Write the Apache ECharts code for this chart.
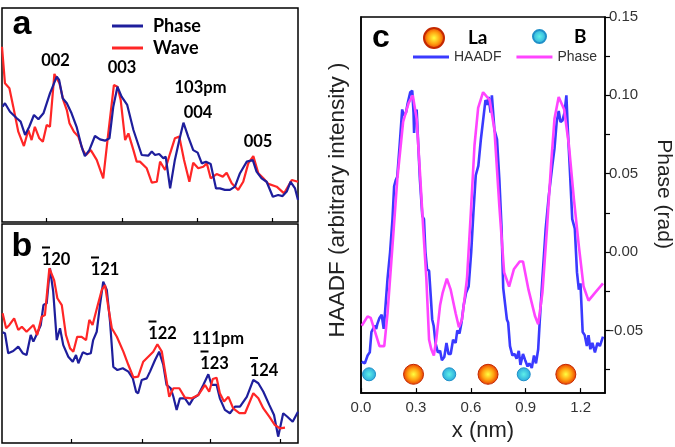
<!DOCTYPE html>
<html><head><meta charset="utf-8">
<script src="https://cdn.jsdelivr.net/npm/echarts@6/dist/echarts.min.js"></script>
<style>html,body{margin:0;padding:0;background:#fff}#c{width:675px;height:447px}</style>
</head><body><div id="c"></div>
<script>
// ---------- Panel a (arbitrary units, x 0..100, y 0..100) ----------
const aPhase = [[0.2,53.9],[1.0,55.5],[2.7,51.5],[5.0,48.5],[6.3,46.9],[7.8,40.7],[9.2,44.5],[10.8,50.0],[12.3,48.0],[14.0,50.8],[16.2,60.1],[18.5,67.9],[19.3,66.4],[20.5,57.8],[21.9,55.5],[23.5,50.8],[25.2,44.5],[26.9,35.2],[28.0,30.8],[29.5,33.6],[31.4,40.2],[33.1,38.6],[34.8,38.0],[36.3,39.1],[37.6,53.9],[39.0,63.2],[40.4,58.6],[42.3,54.7],[44.4,43.0],[47.2,31.3],[49.4,31.0],[50.6,32.9],[51.7,31.3],[53.1,31.8],[54.5,29.8],[55.3,30.5],[56.8,15.7],[58.4,29.0],[59.9,38.3],[61.3,46.4],[62.9,39.9],[64.6,33.6],[66.1,32.4],[67.5,27.4],[68.9,28.2],[70.5,27.1],[72.3,15.7],[73.6,15.7],[75.3,15.0],[77.0,15.0],[78.7,16.5],[80.4,22.8],[82.7,28.2],[84.7,29.0],[86.0,23.5],[87.7,20.4],[89.4,18.8],[91.5,11.8],[93.3,12.6],[94.8,12.1],[96.2,14.2],[97.5,18.8],[99.0,15.7],[100,10.3]];
const aWave = [[0,81.9],[1.0,64.8],[2.5,62.5],[3.8,53.9],[5.5,42.2],[7.4,35.5],[8.9,43.0],[10.0,38.3],[11.1,44.5],[12.6,39.1],[13.8,37.5],[15.1,45.3],[16.2,44.5],[17.7,69.2],[19.4,64.8],[20.7,57.0],[21.9,52.3],[22.8,46.1],[24.3,42.2],[25.8,39.9],[27.3,33.6],[28.4,31.3],[30.0,33.6],[32.0,29.0],[34.2,20.4],[35.9,41.4],[37.8,64.0],[39.0,63.2],[40.1,57.0],[41.6,38.3],[42.7,41.4],[44.4,33.6],[45.5,28.2],[46.6,28.2],[48.9,25.1],[50.6,18.4],[52.3,18.8],[53.4,28.2],[55.1,24.3],[56.8,32.1],[58.4,39.1],[59.9,39.9],[61.5,29.0],[63.3,18.8],[64.6,27.7],[66.3,25.1],[68.0,25.8],[69.2,27.4],[70.5,20.4],[72.5,22.4],[74.6,21.2],[75.9,23.0],[77.6,18.1],[79.8,15.0],[81.5,18.8],[83.2,27.4],[84.9,30.8],[86.6,22.8],[88.3,20.4],[90.0,17.8],[92.8,16.5],[95.3,13.4],[97.9,19.6],[100,18.8]];
const aTicks = [15.1, 40.5, 66.0, 91.4];
const aPeakLabels = ['002', '003', '103pm', '004', '005'];

// ---------- Panel b ----------
const bPhase = [[0.2,50.5],[1.0,50.1],[2.1,41.0],[3.8,42.0],[5.5,44.0],[7.0,41.0],[8.3,40.2],[9.7,49.3],[10.6,46.3],[11.9,50.1],[13.1,53.9],[14.0,63.0],[15.1,63.8],[16.2,79.8],[17.3,69.1],[18.5,47.0],[19.6,52.4],[20.7,44.7],[22.4,39.4],[23.9,37.1],[25.0,40.2],[25.8,36.4],[27.3,41.4],[28.8,40.5],[30.0,41.0],[30.8,47.0],[32.0,50.8],[33.1,63.0],[34.2,73.7],[35.4,69.9],[36.5,55.4],[37.6,34.8],[39.0,33.3],[40.8,34.1],[42.7,32.6],[44.2,29.5],[45.3,23.4],[46.0,22.7],[47.2,28.8],[48.9,29.5],[50.0,32.6],[51.7,37.9],[53.1,41.7],[54.5,35.6],[55.6,26.5],[57.0,25.0],[57.9,21.1],[59.0,15.1],[60.1,20.4],[61.8,20.4],[63.3,17.4],[64.6,20.4],[66.3,21.9],[68.0,26.5],[69.7,31.4],[70.8,26.5],[72.5,26.5],[73.6,20.4],[75.3,15.1],[77.0,13.6],[78.7,16.6],[80.4,16.6],[82.7,21.1],[84.9,28.8],[86.6,27.3],[88.3,23.4],[90.3,17.4],[91.9,12.8],[93.3,2.9],[95.0,13.6],[96.4,12.0],[98.2,9.7],[100,14.3]];
const bWave = [[0.2,59.2],[1.4,52.4],[2.5,53.9],[4.1,56.9],[5.5,51.6],[6.7,53.1],[8.3,50.8],[10.6,53.9],[11.9,49.3],[13.4,57.7],[14.5,58.4],[16.0,79.8],[17.6,74.4],[18.7,66.1],[20.2,63.0],[21.6,49.3],[23.0,43.2],[24.1,41.7],[25.4,48.5],[26.9,48.5],[28.4,47.0],[29.5,56.2],[30.6,53.9],[32.2,62.2],[33.7,69.9],[34.8,72.1],[35.9,62.2],[37.1,52.4],[38.8,48.5],[41.0,41.7],[42.7,35.6],[44.4,30.0],[46.0,30.3],[47.7,37.1],[49.4,39.4],[51.1,41.7],[52.5,45.1],[54.0,41.7],[55.1,32.6],[56.5,21.1],[57.9,25.0],[59.9,25.0],[61.8,20.7],[64.1,20.4],[66.3,21.9],[68.6,26.5],[70.0,23.4],[71.2,29.2],[72.5,29.8],[73.6,22.7],[75.0,18.9],[76.5,21.1],[78.1,15.8],[80.2,13.6],[82.1,13.6],[84.9,22.7],[86.6,20.4],[88.3,15.8],[90.3,12.0],[92.2,8.2],[93.9,6.7],[95.6,7.0]];
const bTicks = [23.3, 47.4, 70.5, 93.9];
const bPeakLabels = ['120', '121', '122', '123', '124']; // first digit carries an overbar
const bExtraLabel = '111pm';

// ---------- Panel c ----------
const cHAADF = [[0.004,-0.070],[0.021,-0.071],[0.036,-0.066],[0.048,-0.064],[0.057,-0.051],[0.065,-0.050],[0.074,-0.047],[0.083,-0.049],[0.089,-0.046],[0.101,-0.042],[0.113,-0.040],[0.124,-0.049],[0.131,-0.039],[0.145,-0.017],[0.159,0.000],[0.172,0.021],[0.181,0.042],[0.190,0.046],[0.198,0.048],[0.211,0.068],[0.225,0.091],[0.234,0.087],[0.246,0.089],[0.255,0.095],[0.269,0.102],[0.280,0.103],[0.287,0.089],[0.290,0.076],[0.296,0.087],[0.304,0.091],[0.313,0.068],[0.322,0.046],[0.335,0.023],[0.344,0.021],[0.352,0.000],[0.361,-0.011],[0.372,-0.012],[0.381,-0.028],[0.389,-0.043],[0.397,-0.047],[0.407,-0.058],[0.420,-0.064],[0.432,-0.063],[0.442,-0.069],[0.455,-0.067],[0.467,-0.058],[0.478,-0.065],[0.490,-0.065],[0.503,-0.056],[0.517,-0.058],[0.526,-0.050],[0.538,-0.052],[0.549,-0.045],[0.561,-0.034],[0.574,-0.026],[0.588,-0.022],[0.602,0.000],[0.614,0.025],[0.627,0.049],[0.641,0.055],[0.655,0.072],[0.668,0.085],[0.680,0.097],[0.690,0.094],[0.697,0.099],[0.708,0.089],[0.715,0.100],[0.722,0.101],[0.729,0.078],[0.743,0.072],[0.756,0.046],[0.768,0.015],[0.777,-0.023],[0.786,-0.024],[0.797,-0.043],[0.804,-0.045],[0.814,-0.060],[0.827,-0.066],[0.839,-0.065],[0.850,-0.068],[0.862,-0.063],[0.871,-0.072],[0.885,-0.065],[0.897,-0.069],[0.910,-0.073],[0.920,-0.071],[0.933,-0.074],[0.945,-0.066],[0.956,-0.071],[0.968,-0.062],[0.977,-0.043],[0.991,-0.017],[1.009,0.015],[1.026,0.036],[1.045,0.055],[1.057,0.066],[1.069,0.083],[1.080,0.090],[1.090,0.083],[1.101,0.084],[1.112,0.089],[1.122,0.100],[1.130,0.078],[1.140,0.055],[1.154,0.021],[1.168,0.015],[1.180,-0.013],[1.190,-0.024],[1.199,-0.020],[1.211,-0.051],[1.222,-0.053],[1.234,-0.060],[1.243,-0.053],[1.253,-0.062],[1.264,-0.058],[1.278,-0.064],[1.292,-0.058],[1.305,-0.060],[1.322,-0.054]];
const cPhase = [[0.004,-0.047],[0.036,-0.041],[0.053,-0.042],[0.101,-0.060],[0.127,-0.060],[0.145,-0.039],[0.172,0.004],[0.198,0.046],[0.230,0.083],[0.260,0.095],[0.283,0.100],[0.304,0.085],[0.322,0.051],[0.340,0.015],[0.357,-0.017],[0.372,-0.056],[0.384,-0.062],[0.398,-0.066],[0.411,-0.056],[0.432,-0.034],[0.446,-0.026],[0.469,-0.017],[0.490,-0.024],[0.517,-0.039],[0.535,-0.048],[0.552,-0.043],[0.579,-0.017],[0.600,0.025],[0.620,0.068],[0.640,0.092],[0.667,0.102],[0.703,0.097],[0.729,0.078],[0.756,0.029],[0.782,-0.013],[0.809,-0.022],[0.835,-0.011],[0.867,-0.006],[0.885,-0.006],[0.915,-0.024],[0.951,-0.041],[0.968,-0.046],[0.991,-0.026],[1.016,0.015],[1.039,0.057],[1.057,0.085],[1.080,0.099],[1.110,0.091],[1.136,0.068],[1.163,0.034],[1.190,0.004],[1.216,-0.022],[1.243,-0.031],[1.278,-0.026],[1.322,-0.020]];
const cLa = [[0.287,-0.078],[0.694,-0.078],[1.119,-0.078]];
const cB = [[0.044,-0.078],[0.482,-0.078],[0.889,-0.078]];
const cXTicks = [0, 0.3, 0.6, 0.9, 1.2];
const cRightTicks = [-0.075,-0.05,-0.025,0,0.025,0.05,0.075,0.1,0.125,0.15];
const cRightLabels = [-0.05,0,0.05,0.1,0.15];

const chart = echarts.init(document.getElementById('c'), null, {renderer: 'canvas'});

const laGrad = {type:'radial', x:0.5, y:0.5, r:0.5, colorStops:[
  {offset:0, color:'#ffff40'}, {offset:0.55, color:'#ffa010'}, {offset:1, color:'#e83a00'}]};
const bGrad = {type:'radial', x:0.5, y:0.5, r:0.5, colorStops:[
  {offset:0, color:'#5ff0e8'}, {offset:1, color:'#2aa8dc'}]};

const hiddenY = (g) => ({type:'value', gridIndex:g, min:0, max:100, show:false});
const boxX = (g, ticks) => ({type:'value', gridIndex:g, min:0, max:100,
  axisLine:{show:false, onZero:false}, splitLine:{show:false}, axisLabel:{show:false},
  axisTick:{show:true, inside:true, length:4, customValues:ticks, lineStyle:{color:'#000', width:1.2}}});

const arial = '"Liberation Sans", Arial, sans-serif';
const labelFont = 'Lato, "Open Sans", sans-serif';
const graphic = [];
function addText(t, x, y, size, family) {
  graphic.push({type:'text', z:100, style:{text:t, x:x, y:y, align:'center', verticalAlign:'middle',
    font:'bold ' + size + 'px ' + family, fill:'#000'}});
}
addText('a', 22, 25, 34, arial);
addText('b', 22, 247, 34, arial);
addText('c', 381, 38, 32, arial);
const aPos = [[55.5,61],[122,67.5],[200.5,87.5],[198,112.5],[258,141.7]];
aPeakLabels.forEach((t,i) => addText(t, aPos[i][0], aPos[i][1], 16.5, labelFont));
const bPos = [[56,260],[105,270],[162.5,334],[214.5,364],[264,370.5]];
bPeakLabels.forEach((t,i) => {
  addText(t, bPos[i][0], bPos[i][1], 16.5, labelFont);
  graphic.push({type:'line', z:100, shape:{x1:bPos[i][0]-14, y1:bPos[i][1]-12.5, x2:bPos[i][0]-6, y2:bPos[i][1]-12.5},
    style:{stroke:'#000', lineWidth:2}});
});
addText(bExtraLabel, 218, 339, 16.5, labelFont);

const option = {
  backgroundColor:'#fff',
  animation:false,
  grid:[
    {left:2, top:8, width:296, height:214, show:true, borderColor:'#000', borderWidth:1.5, backgroundColor:'transparent'},
    {left:2, top:224, width:296, height:219, show:true, borderColor:'#000', borderWidth:1.5, backgroundColor:'transparent'},
    {left:361, top:17, width:251, height:377, show:true, borderColor:'#000', borderWidth:1.5, backgroundColor:'transparent'}
  ],
  xAxis:[
    boxX(0, aTicks), boxX(1, bTicks),
    {type:'value', gridIndex:2, min:0, max:1.333,
     axisLine:{show:true, onZero:false, lineStyle:{color:'#000', width:1.5}}, splitLine:{show:false},
     axisTick:{show:true, inside:true, length:5, customValues:cXTicks, lineStyle:{color:'#000', width:1.2}},
     axisLabel:{customValues:cXTicks, formatter:v=>v.toFixed(1), color:'#333', fontSize:15, margin:7, fontFamily:arial},
     name:'x (nm)', nameLocation:'middle', nameGap:21,
     nameTextStyle:{fontSize:22, color:'#222', fontFamily:arial}}
  ],
  yAxis:[
    hiddenY(0), hiddenY(1),
    {type:'value', gridIndex:2, position:'left', min:-0.09, max:0.15,
     axisLine:{show:true, onZero:false, lineStyle:{color:'#000', width:1.5}}, splitLine:{show:false},
     axisTick:{show:false}, axisLabel:{show:false},
     name:'HAADF (arbitrary intensity )', nameLocation:'middle', nameRotate:90, nameGap:12,
     nameTextStyle:{fontSize:22.5, color:'#222', fontFamily:arial, padding:[0,0,0,10]}},
    {type:'value', gridIndex:2, position:'right', min:-0.09, max:0.15,
     axisLine:{show:true, onZero:false, lineStyle:{color:'#000', width:1.5}}, splitLine:{show:false},
     axisTick:{show:true, inside:false, length:5, customValues:cRightTicks, lineStyle:{color:'#000', width:1.2}},
     axisLabel:{customValues:cRightLabels, formatter:v=>v.toFixed(2), color:'#333', fontSize:15, margin:4, fontFamily:arial},
     name:'Phase (rad)', nameLocation:'middle', nameRotate:-90, nameGap:48,
     nameTextStyle:{fontSize:21, color:'#222', fontFamily:arial, padding:[0,22,0,0]}}
  ],
  legend:[
    {data:['Phase','Wave'], orient:'vertical', left:112, top:17, padding:0, icon:'rect', itemWidth:31, itemHeight:3, itemGap:4,
     textStyle:{fontSize:18, fontWeight:'bold', color:'#000', fontFamily:labelFont, padding:[0,0,0,5]}},
    {data:['La'], left:423, top:27, padding:0, icon:'circle', itemWidth:20, itemHeight:20,
     textStyle:{fontSize:19, fontWeight:'bold', color:'#000', fontFamily:labelFont, padding:[0,0,0,19]}},
    {data:['B'], left:532, top:27, padding:0, icon:'circle', itemWidth:13, itemHeight:13,
     textStyle:{fontSize:19, fontWeight:'bold', color:'#000', fontFamily:labelFont, padding:[0,0,0,23]}},
    {data:['cHAADF','cPhase'], left:413, top:50, padding:0, icon:'rect', itemWidth:36, itemHeight:3, itemGap:15,
     formatter:n=>n.slice(1),
     textStyle:{fontSize:14, color:'#333', fontFamily:arial}}
  ],
  series:[
    {name:'Wave', type:'line', xAxisIndex:0, yAxisIndex:0, data:aWave, showSymbol:false, symbol:'none',
     lineStyle:{color:'#ff2626', width:2.2}, itemStyle:{color:'#ff2626'}},
    {name:'Phase', type:'line', xAxisIndex:0, yAxisIndex:0, data:aPhase, showSymbol:false, symbol:'none',
     lineStyle:{color:'#1e1e9c', width:2.2}, itemStyle:{color:'#1e1e9c'}},
    {name:'bPhase', type:'line', xAxisIndex:1, yAxisIndex:1, data:bPhase, showSymbol:false, symbol:'none',
     lineStyle:{color:'#1e1e9c', width:2.2}},
    {name:'bWave', type:'line', xAxisIndex:1, yAxisIndex:1, data:bWave, showSymbol:false, symbol:'none',
     lineStyle:{color:'#ff2626', width:2.2}},
    {name:'cHAADF', type:'line', xAxisIndex:2, yAxisIndex:2, data:cHAADF, showSymbol:false, symbol:'none',
     lineStyle:{color:'#3a3aff', width:2.6}, itemStyle:{color:'#3a3aff'}},
    {name:'cPhase', type:'line', xAxisIndex:2, yAxisIndex:3, data:cPhase, showSymbol:false, symbol:'none',
     lineStyle:{color:'#ff44ff', width:2.6}, itemStyle:{color:'#ff44ff'}},
    {name:'La', type:'scatter', xAxisIndex:2, yAxisIndex:3, data:cLa, symbol:'circle', symbolSize:20,
     itemStyle:{color:laGrad, borderColor:'#c42800', borderWidth:1, opacity:1}},
    {name:'B', type:'scatter', xAxisIndex:2, yAxisIndex:3, data:cB, symbol:'circle', symbolSize:13,
     itemStyle:{color:bGrad, borderColor:'#2090c8', borderWidth:1, opacity:1}}
  ],
  graphic: graphic
};
chart.setOption(option);
</script></body></html>
